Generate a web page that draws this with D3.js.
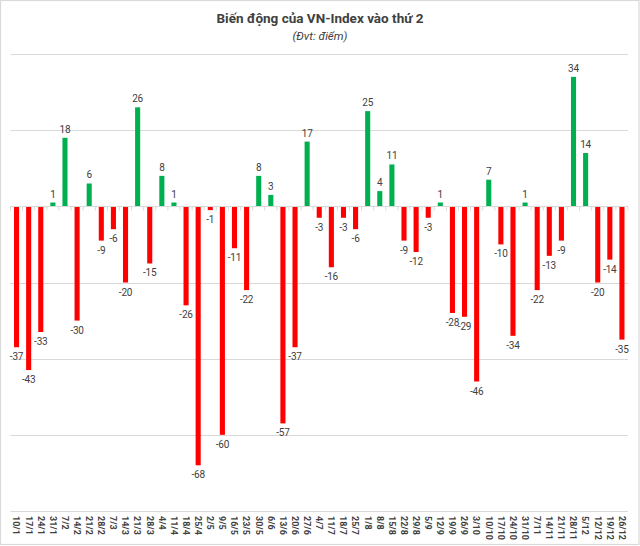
<!DOCTYPE html>
<html>
<head>
<meta charset="utf-8">
<script src="https://cdn.jsdelivr.net/npm/d3@7"></script>
<style>
  html, body { margin: 0; padding: 0; background: #fff; }
  svg { display: block; }
</style>
</head>
<body>
<script>
const categories = ["10/1","17/1","24/1","31/1","7/2","14/2","21/2","28/2","7/3","14/3","21/3","28/3","4/4","11/4","18/4","25/4","2/5","9/5","16/5","23/5","30/5","6/6","13/6","20/6","27/6","4/7","11/7","18/7","25/7","1/8","8/8","15/8","22/8","29/8","5/9","12/9","19/9","26/9","3/10","10/10","17/10","24/10","31/10","7/11","14/11","21/11","28/11","5/12","12/12","19/12","26/12"];
const values = [-37,-43,-33,1,18,-30,6,-9,-6,-20,26,-15,8,1,-26,-68,-1,-60,-11,-22,8,3,-57,-37,17,-3,-16,-3,-6,25,4,11,-9,-12,-3,1,-28,-29,-46,7,-10,-34,1,-22,-13,-9,34,14,-20,-14,-35];
const yTicks = [40,20,0,-20,-40,-60,-80];
const title = "Biến động của VN-Index vào thứ 2";
const subtitle = "(Đvt: điểm)";

const W = 640, H = 546;
const svg = d3.select("body").append("svg").attr("width", W).attr("height", H);

svg.append("rect").attr("x", 0.5).attr("y", 0.5).attr("width", W - 1.5).attr("height", H - 2)
  .attr("fill", "#fff").attr("stroke", "#d9d9d9").attr("stroke-width", 1.2);

const font = "Roboto, 'Open Sans', sans-serif";

svg.append("text").attr("x", 320).attr("y", 23).attr("text-anchor", "middle")
  .attr("font-family", font).attr("font-weight", "bold").attr("font-size", 13.5)
  .attr("fill", "#404040").text(title);
svg.append("text").attr("x", 320).attr("y", 40).attr("text-anchor", "middle")
  .attr("font-family", font).attr("font-style", "italic").attr("font-size", 11.5)
  .attr("fill", "#404040").text(subtitle);

const x = d3.scaleBand().domain(categories).range([10.5, 628]).paddingInner(0.58).paddingOuter(0.29);
const y = d3.scaleLinear().domain([-80, 40]).range([511, 54]);

// gridlines
svg.append("g").selectAll("line").data(yTicks).join("line")
  .attr("x1", 10.5).attr("x2", 628)
  .attr("y1", d => Math.round(y(d)) + 0.5).attr("y2", d => Math.round(y(d)) + 0.5)
  .attr("stroke", "#d9d9d9").attr("stroke-width", 1);

// bars
svg.append("g").selectAll("rect").data(values).join("rect")
  .attr("x", (d, i) => x(categories[i]))
  .attr("width", x.bandwidth())
  .attr("y", d => d >= 0 ? y(d) : y(0))
  .attr("height", d => Math.abs(y(d) - y(0)))
  .attr("fill", d => d >= 0 ? "#00b050" : "#ff0000");

// zero axis with ticks between categories
const step = x.step();
const zeroY = Math.round(y(0)) + 0.5;
svg.append("line").attr("x1", 10.5).attr("x2", 628).attr("y1", zeroY).attr("y2", zeroY)
  .attr("stroke", "#d9d9d9").attr("stroke-width", 1);
svg.append("g").selectAll("line").data(d3.range(categories.length + 1)).join("line")
  .attr("x1", i => 10.5 + i * step).attr("x2", i => 10.5 + i * step)
  .attr("y1", zeroY).attr("y2", zeroY + 4)
  .attr("stroke", "#d9d9d9").attr("stroke-width", 1);

// data labels
svg.append("g").selectAll("text").data(values).join("text")
  .attr("x", (d, i) => x(categories[i]) + x.bandwidth() / 2)
  .attr("y", d => d >= 0 ? y(d) - 5 : y(d) + 13)
  .attr("text-anchor", "middle")
  .attr("font-family", font).attr("font-size", 10)
  .attr("letter-spacing", -0.2)
  .attr("fill", "#404040")
  .text(d => d);

// x axis labels (rotated)
svg.append("g").selectAll("text").data(categories).join("text")
  .attr("transform", d => `translate(${x(d) + x.bandwidth() / 2},516) rotate(90)`)
  .attr("dy", "0.35em")
  .attr("text-anchor", "start")
  .attr("font-family", font).attr("font-size", 9).attr("font-weight", "bold")
  .attr("fill", "#404040")
  .text(d => d);
</script>
</body>
</html>
